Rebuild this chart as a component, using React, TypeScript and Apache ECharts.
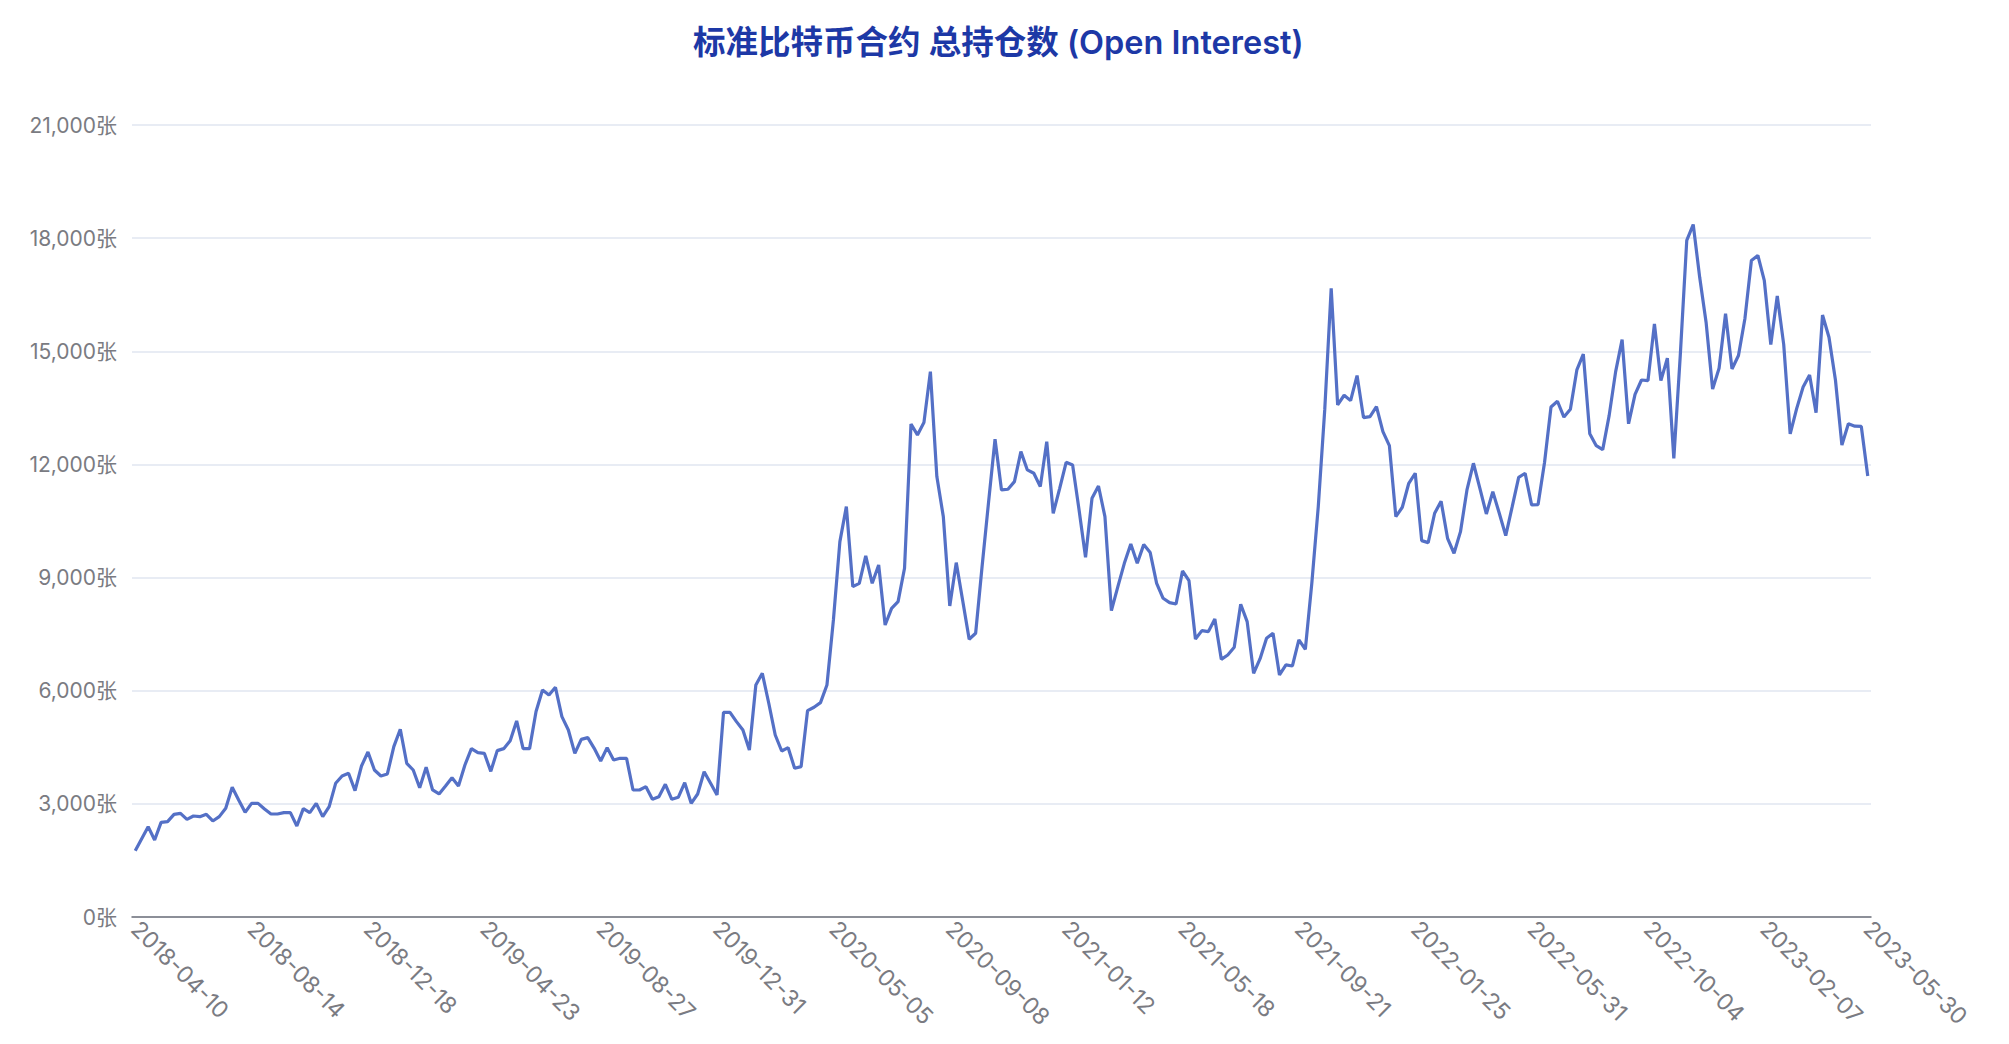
import React, { useEffect, useRef } from "react";
import * as echarts from "echarts";

const TITLE = "标准比特币合约 总持仓数 (Open Interest)";
const START_DATE = "2018-04-10";
const UNIT = "张";
const Y_MIN = 0;
const Y_MAX = 21000;
const Y_INTERVAL = 3000;
const LABEL_STEP = 18;

// weekly open interest (contracts), 2018-04-10 .. 2023-05-30
const openInterest: number[] = [
  1758, 2077, 2396, 2042, 2510, 2528, 2722, 2749, 2590, 2678,
  2661, 2722, 2546, 2661, 2882, 3439, 3103, 2775, 3014, 3014,
  2864, 2731, 2731, 2767, 2767, 2413, 2873, 2767, 3014, 2661,
  2926, 3545, 3739, 3810, 3350, 4004, 4375, 3898, 3739, 3792,
  4517, 4977, 4075, 3898, 3429, 3969, 3368, 3262, 3474, 3695,
  3474, 4031, 4464, 4358, 4340, 3862, 4411, 4464, 4676, 5198,
  4464, 4464, 5450, 6020, 5887, 6090, 5313, 4959, 4340, 4711,
  4756, 4472, 4137, 4491, 4163, 4208, 4208, 3368, 3368, 3456,
  3120, 3191, 3518, 3120, 3173, 3562, 3014, 3262, 3853, 3545,
  3235, 5427, 5427, 5180, 4959, 4428, 6152, 6462, 5667, 4826,
  4402, 4490, 3943, 3986, 5471, 5561, 5683, 6152, 7876, 9953,
  10881, 8760, 8848, 9573, 8848, 9334, 7743, 8185, 8362, 9246,
  13073, 12782, 13109, 14461, 11677, 10616, 8247, 9396, 8388, 7364,
  7523, 9300, 11000, 12667, 11323, 11341, 11544, 12340, 11854, 11765,
  11412, 12605, 10705, 11367, 12057, 11986, 10793, 9538, 11102, 11429,
  10616, 8124, 8760, 9378, 9891, 9378, 9874, 9662, 8848, 8451,
  8336, 8300, 9175, 8919, 7372, 7593, 7567, 7902, 6833, 6948,
  7151, 8292, 7831, 6462, 6850, 7390, 7523, 6417, 6683, 6656,
  7346, 7099, 8848, 10881, 13445, 16671, 13577, 13834, 13692, 14355,
  13241, 13268, 13533, 12870, 12498, 10616, 10864, 11500, 11766, 9979,
  9926, 10705, 11023, 10042, 9645, 10218, 11323, 12031, 11367, 10687,
  11279, 10705, 10113, 10881, 11659, 11766, 10926, 10935, 12050, 13524,
  13675, 13256, 13461, 14505, 14925, 12811, 12498, 12392, 13301, 14461,
  15309, 13078, 13855, 14238, 14221, 15728, 14221, 14818, 12159, 14900,
  17942, 18361, 16961, 15755, 13997, 14551, 15996, 14532, 14890, 15871,
  17407, 17542, 16871, 15176, 16470, 15176, 12811, 13479, 14052, 14373,
  13373, 15961, 15373, 14238, 12516, 13078, 13015, 13007, 11695,
];

// weekly category dates starting at START_DATE
function weeklyDates(start: string, count: number): string[] {
  const [y, m, d] = start.split("-").map(Number);
  const base = Date.UTC(y, m - 1, d);
  const out: string[] = [];
  for (let i = 0; i < count; i++) {
    const t = new Date(base + i * 7 * 86400000);
    const mm = String(t.getUTCMonth() + 1).padStart(2, "0");
    const dd = String(t.getUTCDate()).padStart(2, "0");
    out.push(`${t.getUTCFullYear()}-${mm}-${dd}`);
  }
  return out;
}

const categories = weeklyDates(START_DATE, openInterest.length);

export default function App() {
  const ref = useRef<HTMLDivElement>(null);

  useEffect(() => {
    if (!ref.current) return;
    const chart = echarts.init(ref.current, undefined, { renderer: "svg" });
    const last = categories.length - 1;
    const showIdx = (i: number) => i % LABEL_STEP === 0 || i === last;
    const numFont = "Inter, 'Noto Sans CJK SC', sans-serif";
    chart.setOption({
      animation: false,
      backgroundColor: "#ffffff",
      title: {
        text: TITLE,
        left: 693,
        top: 26,
        padding: 0,
        textStyle: {
          fontSize: 32.5,
          fontWeight: 600,
          color: "#1d38a6",
          fontFamily: "Inter, 'Noto Sans CJK SC', sans-serif",
        },
      },
      grid: { left: 132, right: 138, top: 125, bottom: 127, containLabel: false },
      xAxis: {
        type: "category",
        boundaryGap: true,
        data: categories,
        axisLine: { lineStyle: { color: "#6e7079", width: 1.5 } },
        axisTick: {
          interval: (i: number) => showIdx(i),
          length: 6,
          lineStyle: { color: "#6e7079" },
        },
        axisLabel: {
          interval: (i: number) => showIdx(i),
          rotate: -45,
          fontSize: 23,
          color: "#7a7b82",
          margin: 8,
          fontFamily: numFont,
        },
      },
      yAxis: {
        type: "value",
        min: Y_MIN,
        max: Y_MAX,
        interval: Y_INTERVAL,
        axisLine: { show: false },
        axisTick: { show: false },
        splitLine: { lineStyle: { color: "#e0e6f1", width: 1.5 } },
        axisLabel: {
          fontSize: 21,
          color: "#7a7b82",
          margin: 15,
          fontFamily: numFont,
          formatter: (v: number) => v.toLocaleString("en-US") + UNIT,
        },
      },
      series: [
        {
          type: "line",
          data: openInterest,
          showSymbol: false,
          symbol: "none",
          lineStyle: { color: "#5470c6", width: 3.2 },
          itemStyle: { color: "#5470c6" },
        },
      ],
    });
    return () => chart.dispose();
  }, []);

  return (
    <div
      ref={ref}
      style={{ position: "fixed", left: 0, top: 0, width: 2009, height: 1044, background: "#fff" }}
    />
  );
}
